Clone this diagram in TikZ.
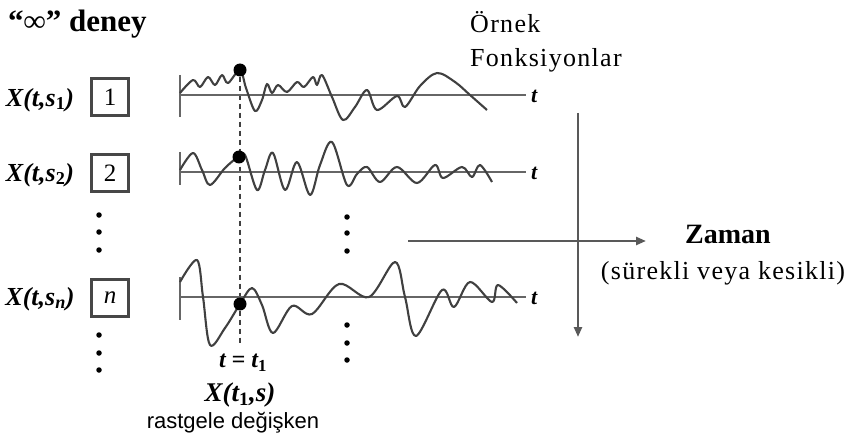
\documentclass[tikz,border=0pt]{standalone}
\usepackage{fontspec}
\setmainfont{Liberation Serif}
\newfontfamily\scrfont[LetterSpace=5]{Liberation Serif}
\newfontfamily\rvfont{Liberation Sans}
\usetikzlibrary{arrows.meta, positioning, backgrounds}

\begin{document}
\begin{tikzpicture}[
  x=1pt, y=-1pt,
  spaxis/.style={draw=black!60, line width=2.6pt},
  spwave/.style={draw=black!75, line width=2.1pt, line join=round},
  spbox/.style={draw=black!72, line width=2.2pt, minimum width=37pt,
                minimum height=37pt, inner sep=0pt, font=\fontsize{25}{25}\selectfont},
  splbl/.style={font=\fontsize{26}{26}\selectfont\bfseries\itshape, inner sep=0pt},
  sptlbl/.style={font=\fontsize{22}{22}\selectfont\bfseries\itshape,
                 inner sep=0pt, inner xsep=5pt, anchor=west},
  spdot/.style={circle, fill=black, inner sep=0pt, minimum size=13pt},
  spvdot/.style={circle, fill=black, inner sep=0pt, minimum size=5.5pt},
  sparr/.style={-{Triangle[length=10pt,width=8pt]}, draw=black!65, line width=2.4pt},
  spdash/.style={draw=black!75, line width=2.2pt, dash pattern=on 5pt off 4pt},
  sptxt/.style={font=\fontsize{26}{30}\selectfont\scrfont, inner sep=0pt}
]
\useasboundingbox (0,0) rectangle (846,441);

% ---------------------------------------------- heading
\node[font=\fontsize{31}{31}\selectfont\bfseries, inner sep=0pt, anchor=west]
  (deney) at (8,24) {“∞” deney};

% ---------------------------------------------- the three rows
\node[splbl] (lbl1) at (40,100) {X(t,s\textsubscript{\upshape 1})};
\node[spbox] (box1) at (110,97) {1};
\node[splbl] (lbl2) at (40,175) {X(t,s\textsubscript{\upshape 2})};
\node[spbox] (box2) at (110,173) {2};
\node[splbl] (lbln) at (40,299) {X(t,s\textsubscript{n})};
\node[spbox] (boxn) at (110,298) {\itshape n};

\coordinate (ax1) at (180,95);
\coordinate (ax2) at (180,172);
\coordinate (axn) at (180,297);
\node[sptlbl] (t1) at (526,96) {t};
\node[sptlbl] (t2) at (526,173) {t};
\node[sptlbl] (tn) at (526,298) {t};
\draw[spaxis] (ax1) -- (ax1 -| t1.west);
\draw[spaxis] (ax2) -- (ax2 -| t2.west);
\draw[spaxis] (axn) -- (axn -| tn.west);
\draw[spaxis] (180,75) -- (180,117);
\draw[spaxis] (180,152) -- (180,185);
\draw[spaxis] (180,277) -- (180,320);

% ---------------------------------------------- sample functions
\draw[spwave] plot[smooth, tension=0.55] coordinates {
  (180,93) (193,80) (200,87) (208,77) (215,85) (222,75) (228,83) (240,70)
  (246,88) (255,111) (262,100) (267,84) (272,93) (278,85) (287,92) (297,82)
  (304,87) (313,77) (317,85) (322,75) (332,97) (343,120) (355,107) (367,90)
  (377,110) (397,96) (405,107) (420,86) (437,73) (455,82) (470,95) (487,110)};
\draw[spwave] plot[smooth, tension=0.55] coordinates {
  (180,170) (193,153) (202,170) (210,185) (225,168) (238,157) (245,155)
  (257,190) (265,170) (273,153) (285,190) (297,162) (310,195) (320,165)
  (332,142) (347,185) (357,174) (367,167) (380,182) (397,167) (417,183)
  (435,165) (443,178) (462,167) (472,177) (480,165) (492,182)};
\draw[spwave] plot[smooth, tension=0.55] coordinates {
  (180,282) (197,260) (203,297) (210,345) (225,328) (240,304) (252,288)
  (262,305) (273,333) (292,306) (312,314) (339,284) (369,297) (395,262)
  (405,297) (416,336) (442,290) (454,307) (470,282) (492,302) (498,285)
  (517,303)};

% ---------------------------------------------- the cut at t = t1
\node[spdot] (dot1) at (240,70) {};
\node[spdot] (dot2) at (239,157) {};
\node[spdot] (dotn) at (240,304) {};
\coordinate (cutend) at (240,345);
\begin{scope}[on background layer]
  \draw[spdash] (dot1) -- (cutend);
\end{scope}

\node[font=\fontsize{24}{24}\selectfont\bfseries\itshape, inner sep=0pt]
  (cut) at (243,363) {t = t\textsubscript{\upshape 1}};
\node[font=\fontsize{27}{27}\selectfont\bfseries\itshape, inner sep=0pt]
  (rv) at (240,395) {X(t\textsubscript{\upshape 1},s)};
\node[font=\fontsize{22}{22}\selectfont\rvfont, inner sep=0pt]
  (rvtxt) at (233,423) {rastgele değişken};

% ---------------------------------------------- vertical dots
\foreach \vy [count=\i] in {215,232,250,335,353,370}
  \node[spvdot] (vl\i) at (99,\vy) {};
\foreach \vy [count=\i] in {217,233,251,325,343,360}
  \node[spvdot] (vr\i) at (347,\vy) {};

% ---------------------------------------------- axes on the right
\node[sptxt, anchor=west] (ornek) at (470,22) {Örnek};
\node[sptxt, anchor=west] (fonk) at (470,60) {Fonksiyonlar};
\coordinate (zamL) at (408,241);
\coordinate (zamR) at (646,241);
\coordinate (topV) at (578,113);
\coordinate (botV) at (578,337);
\draw[sparr] (zamL) -- (zamR);
\draw[sparr] (topV) -- (botV);
\node[font=\fontsize{28}{28}\selectfont\bfseries, inner sep=0pt]
  (zaman) at (728,234) {Zaman};
\node[sptxt] (surekli) at (723,273) {(sürekli veya kesikli)};

\end{tikzpicture}
\end{document}
